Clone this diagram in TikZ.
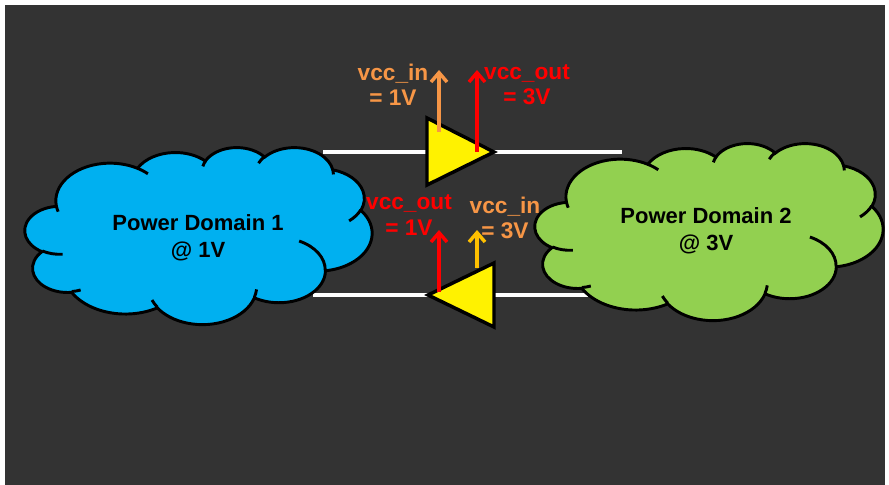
\documentclass[tikz,border=0pt]{standalone}
\usepackage{fontspec}
\setmainfont{Liberation Sans}
\usetikzlibrary{arrows.meta}
\definecolor{bgdark}{HTML}{333333}
\definecolor{cloudblue}{HTML}{00B0F0}
\definecolor{cloudgreen}{HTML}{92D050}
\definecolor{txtorange}{HTML}{F79646}
\definecolor{amber}{HTML}{FFC000}
\tikzset{
  carc/.style n args={4}{insert path={arc[x radius=#1,y radius=#2,start angle={atan2((#1)*sin(#3),(#2)*cos(#3))},delta angle={mod(atan2((#1)*sin((#3)+(#4)),(#2)*cos((#3)+(#4)))-atan2((#1)*sin(#3),(#2)*cos(#3))+720,360)}]}},
  cloudline/.style={draw=black,line width=2.2pt},
  buf/.style={draw=black,fill=yellow,line width=2.6pt},
  wire/.style={draw=white,line width=2.4pt},
  sig/.style={line width=2.6pt,-{Straight Barb[length=7pt,width=12pt]}},
  lbl/.style={font=\bfseries\fontsize{17}{19}\selectfont,align=center,inner sep=0pt},
  dom/.style={font=\bfseries\fontsize{16.5}{20.5}\selectfont,align=center,inner sep=0pt,text=black},
}
\newcommand\drawpdcloud[1]{%
  \path[cloudline,fill=#1] (39,143.7) [carc={67.53}{91.90}{-190.487}{123.781}] [carc={53.33}{72.67}{-144.102}{89.945}] [carc={43.65}{59.45}{-145.808}{99.723}] [carc={48.57}{65.95}{-130.986}{117.242}] [carc={53.33}{72.73}{-78.709}{109.027}] [carc={67.75}{92.20}{-46.267}{130.269}] [carc={57.85}{78.67}{0.625}{114.033}] [carc={67.52}{92.15}{22.452}{115.173}] [carc={77.20}{105.43}{66.243}{75.711}] [carc={43.60}{59.18}{-274.942}{146.736}] [carc={43.45}{59.45}{-246.829}{152.519}] -- cycle;
  \path[cloudline]
    (46.93,261.77) [carc={43.45}{59.45}{86.742}{26.430}]
    (69.28,348.99) [carc={43.60}{59.18}{73.610}{11.447}]
    (164.78,390.90) [carc={67.52}{92.15}{137.624}{14.081}]
    (288.27,347.51) [carc={67.52}{92.15}{6.453}{15.998}]
    (341.29,229.54) [carc={57.85}{78.67}{-70.292}{70.917}]
    (417.98,153.54) [carc={53.33}{72.73}{30.318}{27.752}]
    (383.24,54.26) [carc={48.57}{65.95}{-13.744}{14.859}]
    (290.78,39.52) [carc={48.57}{65.95}{-149.181}{18.195}]
    (221.41,47.20) [carc={43.65}{59.45}{-163.494}{17.686}]
    (140.00,51.92) [carc={67.53}{91.90}{-66.707}{12.319}]
    (41.27,157.89) [carc={67.53}{91.90}{157.654}{11.858}];
}
\begin{document}
\begin{tikzpicture}[x=0.75pt,y=-0.75pt]
\useasboundingbox (0,0) rectangle (889,485);
\fill[white] (0,0) rectangle (889,485);
\fill[bgdark] (5,5) rectangle (885,485);
% wires
\coordinate (w1a) at (323,152); \coordinate (w1b) at (622,152);
\coordinate (w2a) at (313,295); \coordinate (w2b) at (588,295);
\draw[wire] (w1a) -- (w1b);
\draw[wire] (w2a) -- (w2b);
% clouds
\begin{scope}[shift={(25,147)},x=0.60243pt,y=-0.30729pt]
  \drawpdcloud{cloudblue}
\end{scope}
\begin{scope}[shift={(535,143)},x=0.60417pt,y=-0.30729pt]
  \drawpdcloud{cloudgreen}
\end{scope}
\node[dom] (pd1) at (198,238) {Power Domain 1\\@ 1V};
\node[dom] (pd2) at (706,231) {Power Domain 2\\@ 3V};
% buffers
\coordinate (t1a) at (427,118); \coordinate (t1tip) at (494,152); \coordinate (t1b) at (427,185);
\coordinate (t2a) at (494,263); \coordinate (t2tip) at (428,295); \coordinate (t2b) at (494,327);
\draw[buf] (t1a) -- (t1tip) -- (t1b) -- cycle;
\draw[buf] (t2a) -- (t2tip) -- (t2b) -- cycle;
% supply arrows
\coordinate (a1s) at (439,132); \coordinate (a1e) at (439,70);
\coordinate (a2s) at (477,152); \coordinate (a2e) at (477,70);
\coordinate (a3s) at (439,292); \coordinate (a3e) at (439,230);
\coordinate (a4s) at (477,268); \coordinate (a4e) at (477,230);
\draw[sig,txtorange] (a1s) -- (a1e);
\draw[sig,red] (a2s) -- (a2e);
\draw[sig,red] (a3s) -- (a3e);
\draw[sig,amber] (a4s) -- (a4e);
% labels
\node[lbl,text=txtorange] (inA) at (393,85) {vcc\_in\\= 1V};
\node[lbl,text=red] (outA) at (527,85) {vcc\_out\\= 3V};
\node[lbl,text=red] (outB) at (409,215) {vcc\_out\\= 1V};
\node[lbl,text=txtorange] (inB) at (505,218) {vcc\_in\\= 3V};
\end{tikzpicture}
\end{document}
